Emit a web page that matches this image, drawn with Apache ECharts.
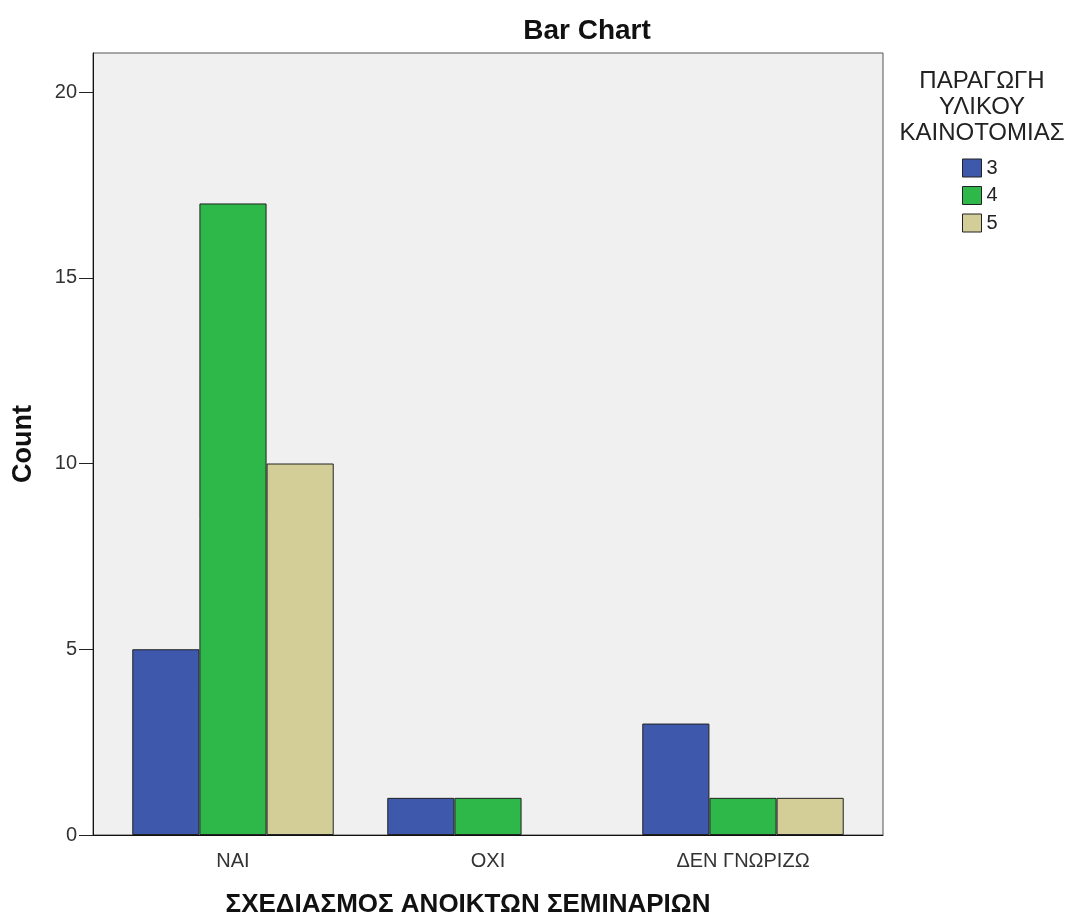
<!DOCTYPE html>
<html>
<head>
<meta charset="utf-8">
<script src="https://cdn.jsdelivr.net/npm/echarts@6/dist/echarts.min.js"></script>
<style>
 body { margin:0; background:#fff; }
 #container-bar { width:1066px; height:918px; }
</style>
</head>
<body>
<div id="container-bar"></div>
<script>
var categories = ['ΝΑΙ', 'ΟΧΙ', 'ΔΕΝ ΓΝΩΡΙΖΩ'];
var seriesNames = ['3', '4', '5'];
var values3 = [5, 1, 3];
var values4 = [17, 1, 1];
var values5 = [10, 0, 1];
var yTicks = [0, 5, 10, 15, 20];
var colors = ['#3e58ac', '#2fb84a', '#d3ce97'];

var font = 'Liberation Sans, Arial, sans-serif';

function drawBar(element) {
  var dom = document.getElementById('container-' + element);
  var myChart = echarts.init(dom);
  var allValues = [values3, values4, values5];
  var yMax = 21.05;
  var series = [];
  for (var i = 0; i < seriesNames.length; i++) {
    series.push({
      name: seriesNames[i],
      type: 'bar',
      xAxisIndex: 1,
      yAxisIndex: 1,
      data: allValues[i].map(function (v) { return v === 0 ? null : v; }),
      barGap: '0%',
      barCategoryGap: '21%',
      itemStyle: { color: colors[i], borderColor: '#222', borderWidth: 1 }
    });
  }
  var option = {
    animation: false,
    textStyle: { fontFamily: font },
    title: [
      { text: 'Bar Chart', left: 582, top: 12, textAlign: 'center',
        textStyle: { fontSize: 28, fontWeight: 'bold', color: '#111', fontFamily: font } },
      { text: 'ΣΧΕΔΙΑΣΜΟΣ ΑΝΟΙΚΤΩΝ ΣΕΜΙΝΑΡΙΩΝ', left: 463, top: 887, textAlign: 'center',
        textStyle: { fontSize: 26, fontWeight: 'bold', color: '#111', fontFamily: font } },
      { text: 'ΠΑΡΑΓΩΓΗ\nΥΛΙΚΟΥ\nΚΑΙΝΟΤΟΜΙΑΣ', left: 977, top: 63, textAlign: 'center',
        textStyle: { fontSize: 24, fontWeight: 'normal', color: '#222', lineHeight: 26, fontFamily: font } }
    ],
    legend: {
      orient: 'vertical',
      left: 957,
      top: 153,
      itemWidth: 19,
      itemHeight: 18,
      itemGap: 7.5,
      icon: 'rect',
      data: seriesNames,
      textStyle: { fontSize: 20, lineHeight: 18, color: '#222', fontFamily: font },
      itemStyle: { borderColor: '#222', borderWidth: 1 }
    },
    grid: [
      { left: 93, right: 183, top: 53, bottom: 83, outerBoundsMode: 'none', containLabel: false,
        show: true, backgroundColor: '#f0f0f0', borderColor: '#555', borderWidth: 1 },
      { left: 105.5, right: 195.5, top: 53, bottom: 83, outerBoundsMode: 'none', containLabel: false }
    ],
    xAxis: [
      {
        type: 'value', gridIndex: 0, min: 0, max: 1,
        axisLine: { show: true, lineStyle: { color: '#111', width: 1 } },
        axisTick: { show: false }, axisLabel: { show: false }, splitLine: { show: false }
      },
      {
        type: 'category',
        gridIndex: 1,
        data: categories,
        axisLine: { show: false },
        axisTick: { alignWithLabel: true, length: 13, lineStyle: { color: '#333' } },
        axisLabel: { fontSize: 20, color: '#333', margin: 16 }
      }
    ],
    yAxis: [
      {
        type: 'value',
        gridIndex: 0,
        min: 0,
        max: yMax,
        interval: 5,
        name: 'Count',
        nameLocation: 'middle',
        nameGap: 56,
        nameTextStyle: { fontSize: 27, fontWeight: 'bold', color: '#111' },
        axisLine: { show: true, lineStyle: { color: '#111', width: 1 } },
        axisTick: { show: true, length: 14, lineStyle: { color: '#222' } },
        axisLabel: {
          fontSize: 20, color: '#333', margin: 16, showMaxLabel: false, padding: [3, 0, 0, 0],
          formatter: function (v) { return yTicks.indexOf(v) >= 0 ? String(v) : ''; }
        },
        splitLine: { show: false }
      },
      { type: 'value', gridIndex: 1, show: false, min: 0, max: yMax, splitLine: { show: false } }
    ],
    series: series
  };
  myChart.setOption(option, true);
}

drawBar('bar');
</script>
</body>
</html>
